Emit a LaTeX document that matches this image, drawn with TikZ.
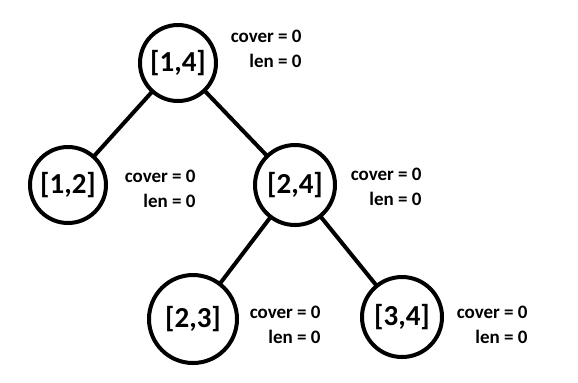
\documentclass[tikz,border=0pt]{standalone}
\usepackage{fontspec}
\setmainfont{Carlito}
\usetikzlibrary{positioning}
\tikzset{
  seg/.style={circle, draw=black, line width=2pt, fill=white, inner sep=0pt, minimum size=38pt, font=\fontsize{14.5}{18}\selectfont\bfseries},
  info/.style={anchor=east, inner sep=0pt, align=right, font=\fontsize{9.5}{12.5}\selectfont\bfseries},
  link/.style={draw=black, line width=2pt}
}
\begin{document}
\begin{tikzpicture}[x=0.5pt, y=-0.5pt]
  \useasboundingbox (0,0) rectangle (578,382);
  \coordinate (c14) at (178,63);
  \coordinate (c12) at (68,185);
  \coordinate (c24) at (295,185);
  \coordinate (c23) at (193,319);
  \coordinate (c34) at (402,317);
  \draw[link] (c14) -- (c12);
  \draw[link] (c14) -- (c24);
  \draw[link] (c24) -- (c23);
  \draw[link] (c24) -- (c34);
  \node[seg] (n14) at (c14) {[1,4]};
  \node[seg] (n12) at (c12) {[1,2]};
  \node[seg, minimum size=40pt] (n24) at (c24) {[2,4]};
  \node[seg, minimum size=44pt] (n23) at (c23) {[2,3]};
  \node[seg, minimum size=40pt] (n34) at (c34) {[3,4]};
  \node[info] (i14) at (302,48.5) {cover = 0\\len = 0};
  \node[info] (i12) at (196,189) {cover = 0\\len = 0};
  \node[info] (i24) at (422,187) {cover = 0\\len = 0};
  \node[info] (i23) at (321,324.5) {cover = 0\\len = 0};
  \node[info] (i34) at (528,324.5) {cover = 0\\len = 0};
\end{tikzpicture}
\end{document}
